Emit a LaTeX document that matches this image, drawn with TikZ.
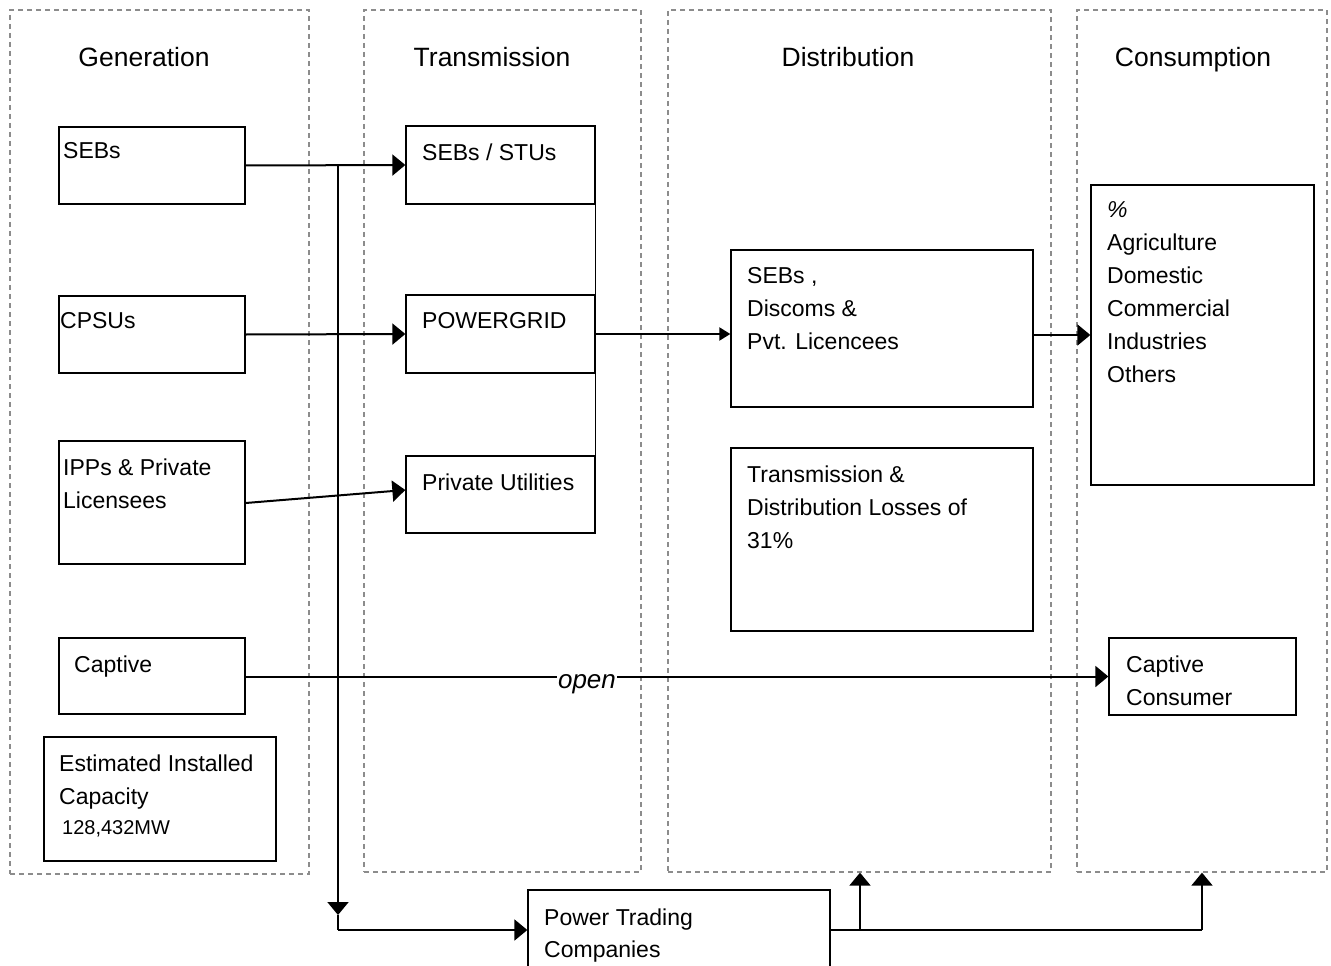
\documentclass[tikz,border=0pt]{standalone}
\usepackage{fontspec}
\setmainfont{Liberation Sans}
\usetikzlibrary{arrows.meta}
\begin{document}
\begin{tikzpicture}[x=1pt,y=-1pt,
  box/.style={draw=black, line width=1.3pt, inner sep=0pt, rectangle},
  col/.style={draw=black!45, line width=1.3pt, dash pattern=on 5pt off 4pt, inner sep=0pt, rectangle},
  txt/.style={anchor=north west, inner sep=0pt, align=left, font=\fontsize{23}{33}\selectfont},
  ttl/.style={anchor=base, inner sep=0pt, font=\fontsize{26.5}{30}\selectfont},
  line/.style={line width=2pt},
  conn/.style={line width=2pt, -{Triangle[length=13pt,width=21pt]}},
  sconn/.style={line width=2pt, -{Triangle[length=11pt,width=13pt]}},
]
\useasboundingbox (0,0) rectangle (1331,966);

% columns
\node[col, minimum width=299pt, minimum height=864pt] (gcol) at (159.5,442) {};
\node[col, minimum width=277pt, minimum height=862pt] (tcol) at (502.5,441) {};
\node[col, minimum width=383pt, minimum height=862pt] (dcol) at (859.5,441) {};
\node[col, minimum width=250pt, minimum height=862pt] (ccol) at (1202,441) {};

% titles
\node[ttl] (tgen) at (144,66.5) {Generation};
\node[ttl] (ttra) at (492,66.5) {Transmission};
\node[ttl] (tdis) at (848,66.5) {Distribution};
\node[ttl] (tcon) at (1193,66.5) {Consumption};

% generation boxes
\node[box, minimum width=186pt, minimum height=77pt] (gseb) at (152,165.5) {};
\node[box, minimum width=186pt, minimum height=77pt] (gcpsu) at (152,334.5) {};
\node[box, minimum width=186pt, minimum height=123pt] (gipp) at (152,502.5) {};
\node[box, minimum width=186pt, minimum height=76pt] (gcap) at (152,676) {};
\node[box, minimum width=232pt, minimum height=124pt] (gcapa) at (160,799) {};

% transmission boxes
\node[box, minimum width=189pt, minimum height=78pt] (tseb) at (500.5,165) {};
\node[box, minimum width=189pt, minimum height=78pt] (tpg) at (500.5,334) {};
\node[box, minimum width=189pt, minimum height=77pt] (tpu) at (500.5,494.5) {};

% distribution boxes
\node[box, minimum width=302pt, minimum height=157pt] (dseb) at (882,328.5) {};
\node[box, minimum width=302pt, minimum height=183pt] (dloss) at (882,539.5) {};

% consumption boxes
\node[box, minimum width=223pt, minimum height=300pt] (cpct) at (1202.5,335) {};
\node[box, minimum width=187pt, minimum height=77pt] (ccap) at (1202.5,676.5) {};

% power trading
\node[box, minimum width=302pt, minimum height=100pt] (ptc) at (679,940) {};

% texts
\node[txt] (lgseb) at (63,142.5) {SEBs};
\node[txt] (lgcpsu) at (60,312.5) {CPSUs};
\node[txt] (lgipp) at (63,458.5) {IPPs \& Private\\Licensees};
\node[txt] (lgcap) at (74,655.5) {Captive};
\node[txt] (lgcapa) at (59,754.5) {Estimated Installed\\Capacity};
\node[anchor=north west, inner sep=0pt, font=\fontsize{20}{24}\selectfont] (lgmw) at (62,820) {128,432MW};
\node[txt] (ltseb) at (422,143.5) {SEBs / STUs};
\node[txt] (ltpg) at (422,312.5) {POWERGRID};
\node[txt] (ltpu) at (422,473.5) {Private Utilities};
\node[txt] (ldseb) at (747,267.5) {SEBs ,\\Discoms \&\\Pvt. Licencees};
\node[txt] (ldloss) at (747,465.5) {Transmission \&\\Distribution Losses of\\31\%};
\node[txt] (lcpct) at (1107,201.5) {\textit{\%}\\Agriculture\\Domestic\\Commercial\\Industries\\Others};
\node[txt] (lccap) at (1126,655.5) {Captive\\Consumer};
\node[txt, font=\fontsize{23}{32}\selectfont] (lptc) at (544,908.5) {Power Trading\\Companies};

% connectors
\draw[conn] (gseb.east) -- (tseb.west);
\draw[conn] (gcpsu.east) -- (tpg.west);
\draw[conn] ([yshift=-0.5pt]gipp.east) -- ([yshift=4.5pt]tpu.west);
\draw[line, line width=1.3pt] (tseb.south east) -- (tpg.north east);
\draw[line, line width=1.3pt] (tpg.south east) -- (tpu.north east);
\draw[sconn] (tpg.east) -- (dseb.west |- tpg.east);
\draw[conn] (cpct.west -| dseb.east) -- (cpct.west);

\draw[conn] (gcap.east |- ccap.west) -- (ccap.west);
\node[anchor=base, fill=white, inner xsep=1.5pt, inner ysep=1pt, font=\itshape\fontsize{26}{30}\selectfont] (lopen) at (587,688) {open};

% branch to power trading
\coordinate (j1) at (338,165.5);
\coordinate (jm) at (338,915);
\coordinate (j2) at (338,930);
\draw[conn] (j1) -- (jm);
\draw[line] (jm) -- (j2);
\draw[conn] (j2) -- (ptc.west |- j2);

\coordinate (j3) at (860,930);
\coordinate (j4) at (1202,930);
\draw[line] (ptc.east |- j2) -- (j3) -- (j4);
\draw[conn] (j3) -- (j3 |- dcol.south);
\draw[conn] (j4) -- (j4 |- ccol.south);
\end{tikzpicture}
\end{document}
